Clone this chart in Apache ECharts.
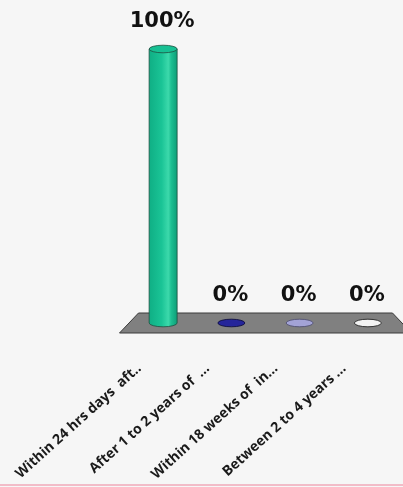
<!DOCTYPE html>
<html><head><meta charset="utf-8">
<script src="https://cdn.jsdelivr.net/npm/echarts@6/dist/echarts.min.js"></script>
<style>html,body{margin:0;padding:0;background:#f6f6f6}#c{width:403px;height:487px}</style>
</head><body><div id="c"></div>
<script>
const categories = ["Within 24 hrs days  aft..", "After 1 to 2 years of  ...", "Within 18 weeks of  in...", "Between 2 to 4 years ..."];
const values = [100, 0, 0, 0];
const valueLabels = ["100%", "0%", "0%", "0%"];

const fills = [
  {type:'linear',x:0,y:0,x2:1,y2:0,colorStops:[
    {offset:0,color:'#0fae84'},{offset:0.45,color:'#1ac496'},{offset:0.68,color:'#3cd9ab'},
    {offset:0.78,color:'#1dbf92'},{offset:1,color:'#0d9c76'}]},
  '#25259a', '#a3a3d6', '#f2f2f2'
];
const strokes = ['#1f4f40', '#101040', '#505070', '#222222'];

function ellipsePath(cx, cy, rx, ry){
  return 'M' + (cx-rx) + ',' + cy + ' A' + rx + ' ' + ry + ' 0 1 0 ' + (cx+rx) + ',' + cy +
         ' A' + rx + ' ' + ry + ' 0 1 0 ' + (cx-rx) + ',' + cy + ' Z';
}

function renderFloor(params, api){
  const cs = params.coordSys;
  const l = cs.x, r = cs.x + cs.width, y0 = api.coord([0, 0])[1];
  const dx = 9.5, dy = 10;
  return {type:'polygon', shape:{points:[[l-dx,y0+dy],[l+dx,y0-dy],[r-dx,y0-dy],[r+dx,y0+dy]]},
    style:{fill:'#808080', stroke:'#3a3a3a', lineWidth:1}};
}

function renderCyl(params, api){
  const i = api.value(0), v = api.value(1);
  const base = api.coord([i, 0]);
  const top = api.coord([i, v]);
  const cx = base[0];
  const children = [];
  const fill = fills[i], stroke = strokes[i];
  if (v > 0) {
    const rx = 14, ry = 3.8;
    const d = 'M' + (cx-rx) + ',' + top[1] + ' L' + (cx-rx) + ',' + base[1] +
      ' A' + rx + ' ' + ry + ' 0 0 0 ' + (cx+rx) + ',' + base[1] +
      ' L' + (cx+rx) + ',' + top[1] + ' Z';
    children.push({type:'path', shape:{pathData:d}, style:{fill:fill, stroke:stroke, lineWidth:0.8}});
    children.push({type:'path', shape:{pathData:ellipsePath(cx, top[1], rx, ry)},
      style:{fill:'#17c093', stroke:stroke, lineWidth:0.8}});
  } else {
    children.push({type:'path', shape:{pathData:ellipsePath(cx, base[1], 13.5, 3.8)},
      style:{fill:fill, stroke:stroke, lineWidth:0.9}});
  }
  children.push({type:'text', style:{text:valueLabels[i], x:cx - 1, y:top[1] - 27,
    align:'center', verticalAlign:'middle', textAlign:'center', textVerticalAlign:'middle',
    fill:'#111', font:'bold 21px "DejaVu Sans"'}});
  return {type:'group', children:children};
}

const chart = echarts.init(document.getElementById('c'));
chart.setOption({
  backgroundColor:'#f6f6f6',
  animation:false,
  grid:{left:129, right:1, top:49, bottom:164},
  xAxis:{type:'category', data:categories,
    axisLine:{show:false}, axisTick:{show:false}, splitLine:{show:false},
    axisLabel:{interval:0, rotate:42, margin:22, padding:[0,32,0,0],
      color:'#1a1a1a', fontFamily:'Open Sans', fontWeight:'bold', fontSize:14}},
  yAxis:{type:'value', min:0, max:100, show:false, splitLine:{show:false}},
  graphic:[{type:'line', shape:{x1:0,y1:485,x2:403,y2:485}, style:{stroke:'#f0a8b8', lineWidth:1.5}, z:10}],
  series:[
    {type:'custom', renderItem:renderFloor, data:[[0,0]], z:1, silent:true},
    {type:'custom', renderItem:renderCyl, data:values.map((v,i)=>[i,v]), z:2}
  ]
});
</script></body></html>
